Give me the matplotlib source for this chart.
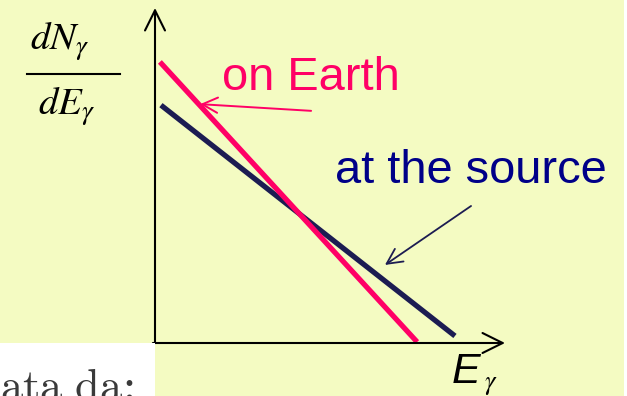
import matplotlib
matplotlib.use("Agg")
import matplotlib.pyplot as plt
from matplotlib.patches import Rectangle

# spectrum sketch, axes units 0..1 (energy along x, dN/dE along y)
energy_earth = [0.014, 0.749]
flux_earth = [0.839, 0.003]
energy_source = [0.017, 0.857]
flux_source = [0.710, 0.021]

label_earth = "on Earth"
label_source = "at the source"

bg = "#F4FBC2"
pink = "#FF0066"
navy_line = "#1C1C52"
navy_text = "#000088"

W, H = 627, 396
fig = plt.figure(figsize=(W / 100, H / 100), dpi=100, facecolor=bg)

# white strip at the bottom left with a clipped line of text
fig.add_artist(Rectangle((0, 0), 155 / W, 53 / H, transform=fig.transFigure,
                         facecolor="white", edgecolor="none"))
fig.add_artist(Rectangle((624 / W, 0), 3 / W, 1, transform=fig.transFigure,
                         facecolor="white", edgecolor="none"))
fig.text(0 / W, -3 / H, r"$\mathrm{ata\ da}$:", math_fontfamily="cm",
         family="DejaVu Serif", fontsize=32, color="#3a3a3a",
         ha="left", va="baseline")

ax = fig.add_axes([155 / W, 53 / H, 350 / W, 335 / H])
ax.set_xlim(0, 1)
ax.set_ylim(0, 1)
ax.set_facecolor("none")
for s in ax.spines.values():
    s.set_visible(False)
ax.set_xticks([])
ax.set_yticks([])

# axes with open arrowheads
axis_arrow = dict(arrowstyle="->,head_length=1.45,head_width=0.72",
                  color="black", lw=1.5, shrinkA=0, shrinkB=0)
ax.annotate("", xy=(0, 1.0), xytext=(0, 0), arrowprops=axis_arrow,
            annotation_clip=False)
ax.annotate("", xy=(1.0, 0), xytext=(-0.006, 0), arrowprops=axis_arrow,
            annotation_clip=False)

ax.plot(energy_source, flux_source, color=navy_line, lw=3.8,
        solid_capstyle="butt")
ax.plot(energy_earth, flux_earth, color=pink, lw=3.8,
        solid_capstyle="butt")

# labels with pointer arrows
ax.text((222 - 155) / 350, (343 - 90) / 335, label_earth, color=pink,
        fontsize=33.8, family="Liberation Sans", ha="left", va="baseline")
ax.annotate("", xy=(0.129, 0.713), xytext=(0.446, 0.693),
            arrowprops=dict(arrowstyle="->,head_length=1.1,head_width=0.55",
                            color=pink, lw=1.4, shrinkA=0, shrinkB=0))

ax.text((335 - 155) / 350, (343 - 183) / 335, label_source, color=navy_text,
        fontsize=33.8, family="Liberation Sans", ha="left", va="baseline",
        clip_on=False)
ax.annotate("", xy=(0.657, 0.233), xytext=(0.903, 0.409),
            arrowprops=dict(arrowstyle="->,head_length=1.1,head_width=0.55",
                            color=navy_line, lw=1.3, shrinkA=0, shrinkB=0))

# y label as a fraction
fig.text(30 / W, 1 - 50 / H, r"$dN_\gamma$", math_fontfamily="stix",
         fontsize=28, ha="left", va="baseline")
fig.text(38 / W, 1 - 115 / H, r"$dE_\gamma$", math_fontfamily="stix",
         fontsize=28, ha="left", va="baseline")
fig.add_artist(plt.Line2D([27 / W, 120 / W], [1 - 74 / H, 1 - 74 / H],
                          transform=fig.transFigure, color="black", lw=1.5))

# x label
fig.text(452 / W, 1 - 383 / H, "E", family="Liberation Sans", style="italic",
         fontsize=31, ha="left", va="baseline")
fig.text(484 / W, 1 - 389 / H, r"$\gamma$", math_fontfamily="stix",
         fontsize=19, ha="left", va="baseline")

fig.savefig("out.png", dpi=100, facecolor=bg)
